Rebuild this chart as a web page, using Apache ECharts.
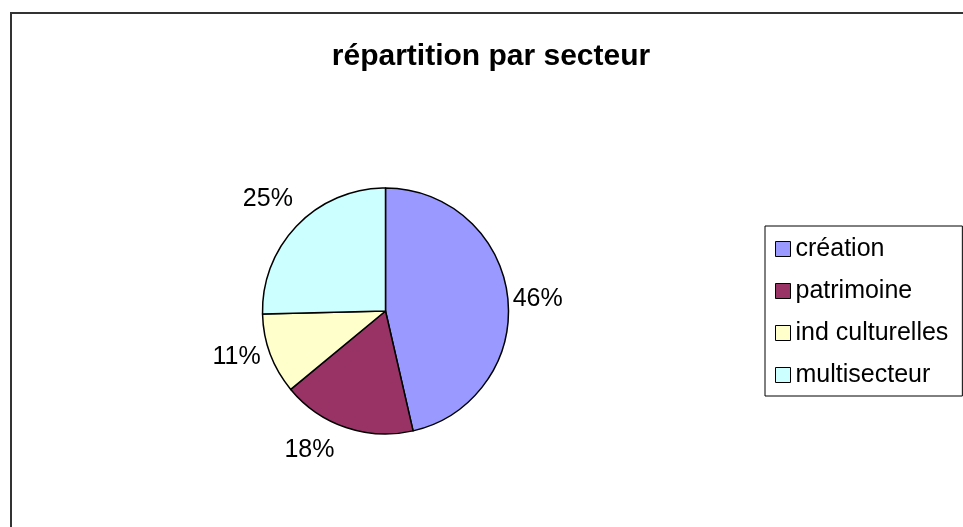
<!DOCTYPE html>
<html>
<head>
<meta charset="utf-8">
<script src="https://cdn.jsdelivr.net/npm/echarts@6/dist/echarts.min.js"></script>
<style>
html,body{margin:0;padding:0;background:#fff;}
#main{width:963px;height:527px;}
</style>
</head>
<body>
<div id="main"></div>
<script>
const titleText = 'répartition par secteur';
const categories = ['création', 'patrimoine', 'ind culturelles', 'multisecteur'];
const values = [46.4, 17.6, 10.6, 25.4];
const colors = ['#9999FF', '#993366', '#FFFFCC', '#CCFFFF'];
// label nudges (style only) to mimic the spreadsheet placement of outside labels
const labelNudges = [[-5, 3], [-5, 18], [0, 1], [4, -23]];

const chart = echarts.init(document.getElementById('main'), null, {renderer: 'canvas'});
const font = 'Liberation Sans, Arial, sans-serif';
chart.setOption({
  animation: false,
  backgroundColor: '#fff',
  title: {
    text: titleText,
    left: 486, top: 37, textAlign: 'center',
    textStyle: {fontFamily: font, fontSize: 30, fontWeight: 'bold', color: '#000'}
  },
  legend: {
    orient: 'vertical',
    left: 765, top: 226,
    data: categories,
    itemWidth: 15, itemHeight: 15,
    itemGap: 14,
    padding: [9, 14, 7, 10],
    borderColor: '#000', borderWidth: 1,
    icon: 'rect',
    itemStyle: {borderColor: '#000', borderWidth: 1},
    textStyle: {fontFamily: font, fontSize: 25, color: '#000', lineHeight: 28}
  },
  graphic: [{
    type: 'rect', silent: true,
    shape: {x: 11, y: 13, width: 1000, height: 600},
    style: {fill: 'none', stroke: '#333', lineWidth: 2}
  }],
  series: [{
    type: 'pie',
    center: [385.5, 311],
    radius: 123,
    startAngle: 90,
    clockwise: true,
    percentPrecision: 0,
    data: categories.map((c, i) => ({
      name: c, value: values[i],
      itemStyle: {color: colors[i]},
      label: {offset: labelNudges[i]}
    })),
    itemStyle: {borderColor: '#000', borderWidth: 1.5},
    label: {
      position: 'outside',
      formatter: '{d}%',
      fontFamily: font, fontSize: 25, color: '#000'
    },
    labelLine: {show: false, length: 5, length2: 0},
    emphasis: {disabled: true}
  }]
});
</script>
</body>
</html>
